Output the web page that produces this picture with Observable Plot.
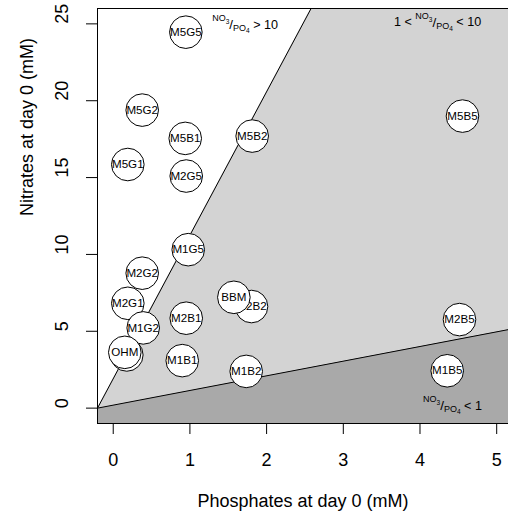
<!DOCTYPE html>
<html><head><meta charset="utf-8">
<script src="https://cdn.jsdelivr.net/npm/d3@7"></script>
<script src="https://cdn.jsdelivr.net/npm/@observablehq/plot@0.6"></script>
<style>
body{margin:0;background:#fff;}
#chart{width:508px;height:513px;overflow:hidden;}
</style>
</head><body><div id="chart"></div>
<script>
// --- data ---
// drawing order matters: later points are drawn over earlier ones
const labels    = ["M1G1","M2B2","M5G5","M5G2","M5B1","M5G1","M2G5","M5B2","M5B5","M1G5","M2G2","M2G1","M1G2","M2B1","M1B1","BBM","M1B2","M2B5","M1B5","OHM"];
const phosphate = [0.177, 1.803, 0.947, 0.378, 0.939, 0.190, 0.952, 1.812, 4.554, 0.978, 0.378, 0.190, 0.391, 0.952, 0.900, 1.573, 1.734, 4.515, 4.355, 0.151];
const nitrate   = [3.46, 6.61, 24.46, 19.39, 17.55, 15.85, 15.10, 17.70, 19.00, 10.31, 8.78, 6.82, 5.22, 5.85, 3.09, 7.21, 2.39, 5.76, 2.43, 3.63];
// labels that are completely covered by a later circle in the reference
const hiddenLabels = ["M1G1"];

// ratio boundaries (NO3/PO4 = 10 and = 1)
const upperX = [-0.205, 2.58];
const upperY = [0, 26];
const lowerX = [-0.205, 5.154];
const lowerY = [0, 5.11];

const xTicks = [0, 1, 2, 3, 4, 5];
const yTicks = [0, 5, 10, 15, 20, 25];
const xDomain = [-0.205, 5.154];
const yDomain = [-1, 26];

const annText = ["NO3/PO4 > 10", "1 < NO3/PO4 < 10", "NO3/PO4 < 1"];
const annX = [1.29, 3.66, 4.04];
const annY = [24.68, 24.83, -0.11];

const xLabel = "Phosphates at day 0 (mM)";
const yLabel = "Nitrates at day 0 (mM)";

// --- derived tables ---
const points = labels.map((l, i) => ({label: l, x: phosphate[i], y: nitrate[i], show: !hiddenLabels.includes(l)}));
const lowerAt = x => lowerY[0] + (lowerY[1] - lowerY[0]) * (x - lowerX[0]) / (lowerX[1] - lowerX[0]);
const upperLine = upperX.map((x, i) => ({x, y: upperY[i]}));
const lowerLine = lowerX.map((x, i) => ({x, y: lowerY[i]}));
const lightRegion = [
  {x: upperX[0], y1: lowerAt(upperX[0]), y2: upperY[0]},
  {x: upperX[1], y1: lowerAt(upperX[1]), y2: yDomain[1]},
  {x: lowerX[1], y1: lowerY[1], y2: yDomain[1]}
];
const darkRegion = [
  {x: lowerX[0], y1: yDomain[0], y2: lowerY[0]},
  {x: lowerX[1], y1: yDomain[0], y2: lowerY[1]}
];

const FONT = "'Liberation Sans', Arial, Helvetica, sans-serif";

const pointMarks = points.flatMap(p => [
  Plot.dot([p], {x: "x", y: "y", r: 16.3, fill: "white", stroke: "black", strokeWidth: 1}),
  ...(p.show ? [Plot.text([p], {x: "x", y: "y", text: "label", fontSize: 11.6, fill: "black"})] : [])
]);

const plot = Plot.plot({
  width: 508,
  height: 513,
  marginLeft: 97,
  marginRight: 0,
  marginTop: 8,
  marginBottom: 90,
  style: {background: "white", fontFamily: FONT, fontSize: "18px", color: "black"},
  x: {domain: xDomain, label: null},
  y: {domain: yDomain, label: null},
  marks: [
    Plot.areaY(darkRegion, {x: "x", y1: "y1", y2: "y2", fill: "#A9A9A9"}),
    Plot.areaY(lightRegion, {x: "x", y1: "y1", y2: "y2", fill: "#D3D3D3"}),
    Plot.line(upperLine, {x: "x", y: "y", stroke: "black", strokeWidth: 1}),
    Plot.line(lowerLine, {x: "x", y: "y", stroke: "black", strokeWidth: 1}),
    ...pointMarks,
    Plot.text(annText, {x: (d, i) => annX[i], y: (d, i) => annY[i], text: d => d,
      textAnchor: "start", lineAnchor: "bottom", fontSize: 12.6, fill: "black"}),
    Plot.axisX({ticks: xTicks, tickSize: 11, tickPadding: 19, tickFormat: d => String(d), fontSize: 18, label: null, stroke: "black"}),
    Plot.axisY({ticks: yTicks, tickSize: 11, tickFormat: () => "", label: null, stroke: "black"}),
    Plot.text(yTicks, {y: d => d, text: d => String(d), frameAnchor: "left", dx: -35, rotate: -90, fontSize: 18, fill: "black"}),
    Plot.frame({stroke: "black", strokeWidth: 1}),
    Plot.text([xLabel], {text: d => d, frameAnchor: "bottom", lineAnchor: "bottom", dy: 83.5, fontSize: 18, fill: "black"}),
    Plot.text([yLabel], {text: d => d, frameAnchor: "left", dx: -70, rotate: -90, fontSize: 18, fill: "black"})
  ]
});

// typeset the ratio annotations (NO3 as superscript, PO4 as subscript)
d3.select(plot).selectAll("text").filter(function() { return annText.includes(this.textContent); })
  .each(function() {
    const t = this.textContent;
    const parts = t.split("NO3/PO4");
    const pre = parts[0], post = parts[1];
    const sel = d3.select(this).style("white-space", "pre").text(null);
    if (pre) sel.append("tspan").attr("font-size", 12.6).text(pre);
    sel.append("tspan").attr("font-size", 9).attr("dy", -7.4).text("NO");
    sel.append("tspan").attr("font-size", 6.5).attr("dy", 2.9).text("3");
    sel.append("tspan").attr("font-size", 13.5).attr("dy", 5.0).text("/");
    sel.append("tspan").attr("font-size", 9).attr("dy", 1.8).text("PO");
    sel.append("tspan").attr("font-size", 6.5).attr("dy", 1.8).text("4");
    sel.append("tspan").attr("font-size", 12.6).attr("dy", -4.1).text(post);
  });

document.getElementById("chart").appendChild(plot);
</script>
</body></html>
